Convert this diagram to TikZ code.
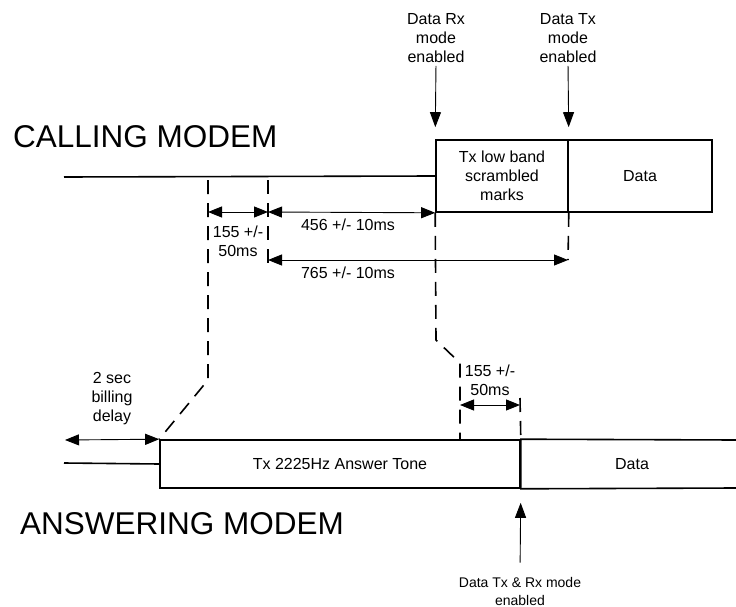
\documentclass[tikz,border=0pt]{standalone}
\usepackage{fontspec}
\setmainfont{Liberation Sans}
\usetikzlibrary{arrows.meta, positioning, calc}

\begin{document}
\begin{tikzpicture}[x=1pt, y=-1pt,
    every node/.style={font=\fontsize{16}{19}\selectfont, align=center, inner sep=0pt},
    title/.style={font=\fontsize{31.5}{34}\selectfont, anchor=base west},
    phase/.style={draw, line width=1.6pt, minimum height=72pt},
    signal/.style={line width=1.6pt},
    marker/.style={line width=1.6pt, dash pattern=on 14pt off 9pt},
    dim/.style={line width=0.9pt, {Triangle[length=14pt,width=11pt]}-{Triangle[length=14pt,width=11pt]}},
    event/.style={line width=0.9pt, -{Triangle[length=15pt,width=11pt]}}]
    \useasboundingbox (0,0) rectangle (736,607);

    % Calling modem
    \node[title] (calling) at (13,148) {CALLING MODEM};
    \node[phase, minimum width=132pt] (scram) at (502,176) {Tx low band\\scrambled\\marks};
    \node[phase, minimum width=144pt] (cdata) at (640,176) {Data};
    \coordinate (cstart) at (64,177);
    \draw[signal] (cstart) -- (scram.west);

    % Events at the calling modem
    \node (rxon) at (436,38) {Data Rx\\mode\\enabled};
    \node (txon) at (568,38) {Data Tx\\mode\\enabled};
    \draw[event, shorten <=3pt, shorten >=12pt] (rxon.south) -- (scram.north west);
    \draw[event, shorten <=3pt, shorten >=12pt] (txon.south) -- (scram.north east);

    % Answering modem
    \node[title] (answering) at (20,534) {ANSWERING MODEM};
    \node[phase, minimum width=360pt, minimum height=48pt] (tone) at (340,464) {Tx 2225Hz Answer Tone};
    \coordinate (astart) at (64,463);
    \coordinate (aend) at (736,440);
    \coordinate (aendb) at (736,488);
    \draw[signal] (astart) -- (tone.west);
    \draw[signal] (aend) -- (tone.north east) -- (tone.south east) -- (aendb);
    \node (adata) at (632,464) {Data};

    % Timing markers
    \coordinate (m1a) at (208,180);
    \coordinate (m1b) at (208,380);
    \coordinate (m2a) at (268,180);
    \coordinate (m2b) at (268,266);
    \coordinate (m3b) at (436,340);
    \coordinate (m3c) at (460,363);
    \coordinate (m3d) at (460,440);
    \coordinate (m4b) at (568,260);
    \coordinate (m5a) at (520,398);
    \draw[marker] (m1a) -- (m1b) -- (tone.north west);
    \draw[marker] (m2a) -- (m2b);
    \draw[marker] (scram.south west) -- (m3b) -- (m3c) -- (m3d);
    \draw[marker] (scram.south east) -- (m4b);
    \draw[marker] (m5a) -- (tone.north east);

    % Intervals
    \coordinate (d1a) at (208,212);
    \coordinate (d1b) at (268,212);
    \coordinate (d2b) at (268,260);
    \coordinate (d3a) at (460,405);
    \coordinate (d3b) at (520,405);
    \coordinate (bill) at (65,440);
    \draw[dim] (d1a) -- (d1b);
    \draw[dim] (d1b) -- (scram.south west);
    \draw[dim] (d2b) -- (m4b);
    \draw[dim] (d3a) -- (d3b);
    \draw[dim] (bill) -- (tone.north west);
    \node (t155a) at (238,241) {155 +/-\\50ms};
    \node (t456) at (348,225) {456 +/- 10ms};
    \node (t765) at (348,273) {765 +/- 10ms};
    \node (t155b) at (490,380) {155 +/-\\50ms};
    \node (tbill) at (112,399) {2 sec\\billing\\delay};

    % Event at the answering modem
    \node[font=\fontsize{14}{18}\selectfont] (txrx) at (520,591) {Data Tx \& Rx mode\\enabled};
    \draw[event, shorten <=14pt, shorten >=14pt] (txrx.north) -- (tone.south east);
\end{tikzpicture}
\end{document}
